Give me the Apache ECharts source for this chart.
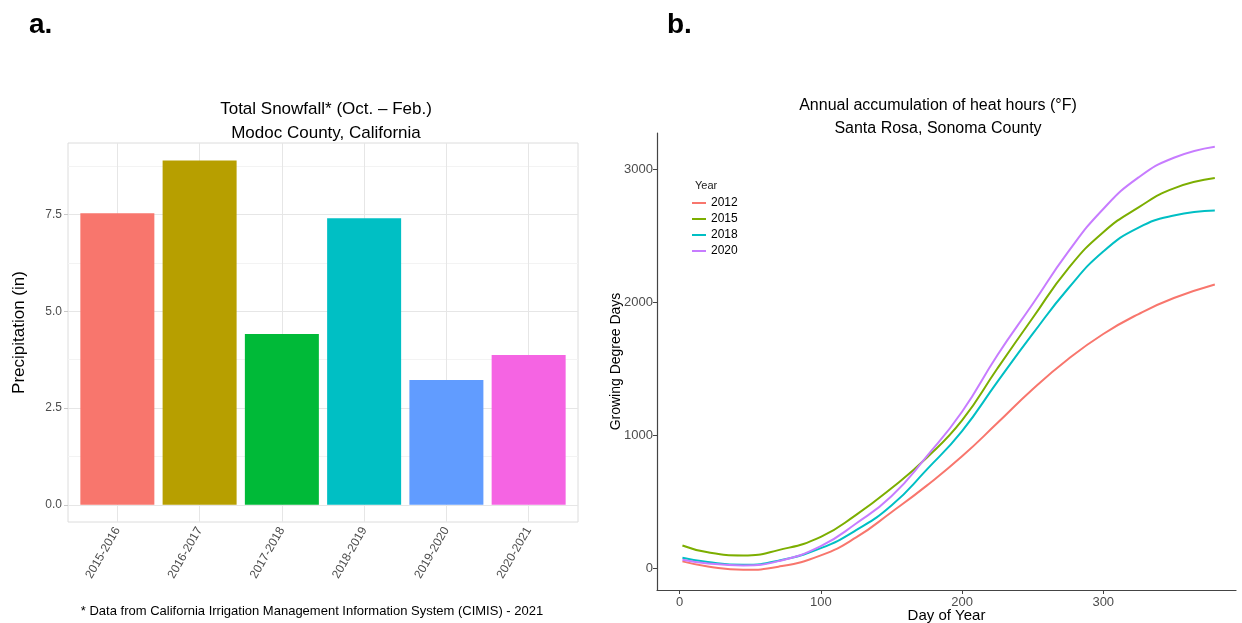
<!DOCTYPE html>
<html>
<head>
<meta charset="utf-8">
<script src="https://cdn.jsdelivr.net/npm/echarts@6/dist/echarts.min.js"></script>
<style>
  html, body { margin: 0; padding: 0; background: #fff; }
  #chart { width: 1242px; height: 623px; }
</style>
</head>
<body>
<div id="chart"></div>
<script>
// panel a: snowfall by season
const seasons = ['2015-2016', '2016-2017', '2017-2018', '2018-2019', '2019-2020', '2020-2021']
const snowfall = [7.53, 8.89, 4.41, 7.40, 3.22, 3.87]
const barColors = ['#F8766D', '#B79F00', '#00BA38', '#00BFC4', '#619CFF', '#F564E3']
const snowTicks = [0, 2.5, 5, 7.5]
const snowMinor = [1.25, 3.75, 6.25, 8.75]

// panel b: growing degree days by day of year
const days = [2, 20, 45, 70, 100, 125, 150, 175, 200, 225, 250, 275, 300, 325, 350, 379]
const gdd2012 = [50, 12, -13, 10, 95, 230, 420, 620, 840, 1090, 1345, 1570, 1760, 1910, 2030, 2132]
const gdd2015 = [170, 118, 95, 135, 235, 400, 600, 830, 1110, 1500, 1880, 2250, 2525, 2712, 2855, 2932]
const gdd2018 = [78, 45, 25, 55, 150, 285, 470, 740, 1030, 1400, 1760, 2100, 2380, 2560, 2650, 2688]
const gdd2020 = [63, 35, 20, 52, 165, 335, 540, 840, 1175, 1600, 1985, 2375, 2700, 2937, 3085, 3168]
const years = ['2012', '2015', '2018', '2020']
const lineColors = ['#F8766D', '#7CAE00', '#00BFC4', '#C77CFF']
const gddTicks = [0, 1000, 2000, 3000]
const dayTicks = [0, 100, 200, 300]

const font = "'Liberation Sans', Arial, sans-serif"

function pairs(xs, ys) {
  return xs.map((x, i) => [x, ys[i]])
}

const chart = echarts.init(document.getElementById('chart'))

const gridLines = []
snowTicks.forEach(v => gridLines.push({yAxis: v, lineStyle: {color: '#e6e6e6', width: 1, type: 'solid'}}))
snowMinor.forEach(v => gridLines.push({yAxis: v, lineStyle: {color: '#f3f3f3', width: 1, type: 'solid'}}))
seasons.forEach((s, i) => gridLines.push({xAxis: i + 1, lineStyle: {color: '#e6e6e6', width: 1, type: 'solid'}}))

const option = {
  animation: false,
  textStyle: {fontFamily: font},
  title: [
    {text: 'a.', left: 24, top: 6, textStyle: {fontSize: 28, fontWeight: 'bold', color: '#000', fontFamily: font}},
    {text: 'b.', left: 662, top: 6, textStyle: {fontSize: 28, fontWeight: 'bold', color: '#000', fontFamily: font}},
    {
      text: 'Total Snowfall* (Oct. – Feb.)\nModoc County, California',
      left: 321, top: 92, textAlign: 'center',
      textStyle: {fontSize: 17, fontWeight: 'normal', color: '#000', lineHeight: 24, fontFamily: font}
    },
    {
      text: 'Annual accumulation of heat hours (°F)\nSanta Rosa, Sonoma County',
      left: 933, top: 89, textAlign: 'center',
      textStyle: {fontSize: 16, fontWeight: 'normal', color: '#000', lineHeight: 23, fontFamily: font}
    },
    {
      text: '* Data from California Irrigation Management Information System (CIMIS) - 2021',
      left: 307, top: 600, textAlign: 'center',
      textStyle: {fontSize: 13, fontWeight: 'normal', color: '#000', fontFamily: font}
    },
    {text: 'Year', left: 690, top: 175, textStyle: {fontSize: 11, fontWeight: 'normal', color: '#222', fontFamily: font}}
  ],
  legend: {
    data: years,
    orient: 'vertical',
    left: 687, top: 191,
    icon: 'rect',
    itemWidth: 14, itemHeight: 2,
    itemGap: 2,
    textStyle: {fontSize: 12, color: '#000', lineHeight: 14, fontFamily: font}
  },
  grid: [
    {left: 68, top: 143, width: 510, height: 379, show: true, borderColor: '#dcdcdc', borderWidth: 1,
      backgroundColor: 'transparent', outerBoundsMode: 'none'},
    {left: 657, top: 133, width: 579, height: 457, outerBoundsMode: 'none'}
  ],
  xAxis: [
    {
      gridIndex: 0, type: 'value', min: 0.4, max: 6.6,
      axisLine: {show: false},
      axisTick: {show: true, customValues: [1, 2, 3, 4, 5, 6], length: 4, lineStyle: {color: '#c8c8c8'}},
      axisLabel: {
        customValues: [1, 2, 3, 4, 5, 6], rotate: 60, margin: 6,
        formatter: v => seasons[Math.round(v) - 1], color: '#4d4d4d', fontSize: 12
      },
      splitLine: {show: false}
    },
    {
      gridIndex: 1, type: 'value', min: -16, max: 394,
      name: 'Day of Year', nameLocation: 'middle', nameGap: 18, nameMoveOverlap: false,
      nameTextStyle: {fontSize: 15, color: '#000'},
      axisLine: {show: true, onZero: false, lineStyle: {color: '#444', width: 1.2}},
      axisTick: {show: true, customValues: dayTicks, length: 4, lineStyle: {color: '#444'}},
      axisLabel: {customValues: dayTicks, color: '#4d4d4d', fontSize: 13, margin: 6},
      splitLine: {show: false}
    }
  ],
  yAxis: [
    {
      gridIndex: 0, type: 'value', min: -0.445, max: 9.345,
      name: 'Precipitation (in)', nameLocation: 'middle', nameGap: 40,
      nameTextStyle: {fontSize: 17, color: '#000'},
      axisLine: {show: false},
      axisTick: {show: true, customValues: snowTicks, length: 4, lineStyle: {color: '#c8c8c8'}},
      axisLabel: {customValues: snowTicks, formatter: v => v.toFixed(1), color: '#4d4d4d', fontSize: 12, margin: 6},
      splitLine: {show: false}
    },
    {
      gridIndex: 1, type: 'value', min: -165, max: 3271,
      name: 'Growing Degree Days', nameLocation: 'middle', nameGap: 34, nameMoveOverlap: false,
      nameTextStyle: {fontSize: 14, color: '#000'},
      axisLine: {show: true, onZero: false, lineStyle: {color: '#444', width: 1.2}},
      axisTick: {show: true, customValues: gddTicks, length: 4, lineStyle: {color: '#444'}},
      axisLabel: {customValues: gddTicks, formatter: v => String(v), color: '#4d4d4d', fontSize: 13, margin: 4},
      splitLine: {show: false}
    }
  ],
  series: [
    {
      name: 'gridlines', type: 'line', xAxisIndex: 0, yAxisIndex: 0, data: [], z: 1,
      markLine: {silent: true, z: 1, symbol: ['none', 'none'], label: {show: false}, animation: false, data: gridLines}
    },
    {
      name: 'snowfall', type: 'bar', xAxisIndex: 0, yAxisIndex: 0, z: 6,
      barWidth: 74,
      data: snowfall.map((v, i) => ({value: [i + 1, v], itemStyle: {color: barColors[i]}}))
    },
    ...[gdd2012, gdd2015, gdd2018, gdd2020].map((ys, i) => ({
      name: years[i], type: 'line', xAxisIndex: 1, yAxisIndex: 1,
      data: pairs(days, ys), smooth: 0.5, showSymbol: false, symbol: 'none',
      color: lineColors[i],
      lineStyle: {width: 2, color: lineColors[i]}
    }))
  ]
}

chart.setOption(option)
</script>
</body>
</html>
